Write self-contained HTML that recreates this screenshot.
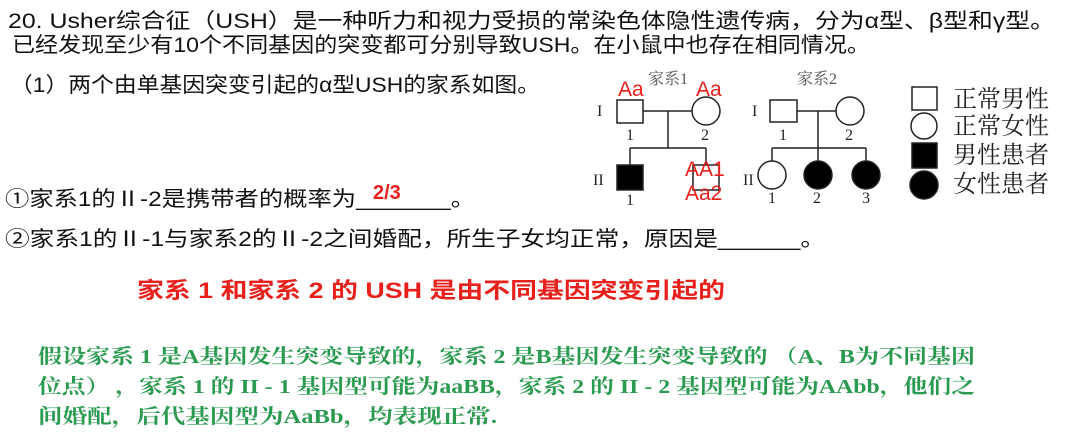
<!DOCTYPE html>
<html><head><meta charset="utf-8"><style>
html,body{margin:0;padding:0;background:#fff;width:1080px;height:438px;overflow:hidden}
svg{display:block}
.t{font-family:"Liberation Sans","Noto Sans CJK SC",sans-serif;font-size:21px;fill:#111}
.s{font-family:"Liberation Serif","Noto Serif CJK SC",serif;fill:#222}
.r{font-family:"Liberation Sans","Noto Sans CJK SC",sans-serif;fill:#e8201c}
.g{font-family:"Liberation Serif","Noto Serif CJK SC",serif;font-weight:bold;font-size:20px;fill:#2a9a50}
</style></head><body>
<svg width="1080" height="438" viewBox="0 0 1080 438">
<text class="t" x="8" y="28" textLength="1047" lengthAdjust="spacingAndGlyphs">20. Usher综合征（USH）是一种听力和视力受损的常染色体隐性遗传病，分为α型、β型和γ型。</text>
<text class="t" x="12" y="52" textLength="858" lengthAdjust="spacingAndGlyphs">已经发现至少有10个不同基因的突变都可分别导致USH。在小鼠中也存在相同情况。</text>
<text class="t" x="10" y="92" textLength="530" lengthAdjust="spacingAndGlyphs">（1）两个由单基因突变引起的α型USH的家系如图。</text>
<text class="t" x="5" y="206" textLength="470" lengthAdjust="spacingAndGlyphs">①家系1的Ⅱ-2是携带者的概率为_______。</text>
<text class="r" x="373" y="199" font-size="20" font-weight="bold">2/3</text>
<text class="t" x="5" y="246" textLength="820" lengthAdjust="spacingAndGlyphs">②家系1的Ⅱ-1与家系2的Ⅱ-2之间婚配，所生子女均正常，原因是______。</text>
<text class="r" x="137" y="298" font-size="22" font-weight="bold" textLength="588" lengthAdjust="spacingAndGlyphs">家系 1 和家系 2 的 USH 是由不同基因突变引起的</text>
<text class="g" x="38" y="363" textLength="937" lengthAdjust="spacingAndGlyphs">假设家系 1 是A基因发生突变导致的，家系 2 是B基因发生突变导致的 （A、B为不同基因</text>
<text class="g" x="38" y="393" textLength="937" lengthAdjust="spacingAndGlyphs">位点） ，家系 1 的 II - 1 基因型可能为aaBB，家系 2 的 II - 2 基因型可能为AAbb，他们之</text>
<text class="g" x="38" y="423" textLength="459" lengthAdjust="spacingAndGlyphs">间婚配，后代基因型为AaBb，均表现正常.</text>

<g stroke="#222" stroke-width="1.5" fill="#fff">
<line x1="643" y1="111" x2="692" y2="111"/>
<line x1="668" y1="111" x2="668" y2="148"/>
<line x1="630" y1="148" x2="706" y2="148"/>
<line x1="630" y1="148" x2="630" y2="165"/>
<line x1="706" y1="148" x2="706" y2="165"/>
<rect x="617" y="100" width="26" height="23"/>
<circle cx="706" cy="111" r="14"/>
<rect x="617" y="165" width="26" height="25" fill="#000"/>
<rect x="693" y="165" width="26" height="25"/>
<line x1="797" y1="111" x2="836" y2="111"/>
<line x1="818" y1="111" x2="818" y2="161"/>
<line x1="772" y1="148" x2="866" y2="148"/>
<line x1="772" y1="148" x2="772" y2="161"/>
<line x1="866" y1="148" x2="866" y2="161"/>
<rect x="770" y="100" width="27" height="22"/>
<circle cx="850" cy="111" r="14"/>
<circle cx="772" cy="175" r="14"/>
<circle cx="818" cy="175" r="14" fill="#000"/>
<circle cx="866" cy="175" r="14" fill="#000"/>
<rect x="912" y="87" width="25" height="23"/>
<circle cx="924" cy="126" r="13"/>
<rect x="912" y="143" width="25" height="25" fill="#000"/>
<circle cx="924" cy="185" r="14" fill="#000"/>
</g>
<g class="s" font-size="16">
<text x="648" y="84" fill="#555">家系1</text>
<text x="797" y="84" fill="#555">家系2</text>
<text x="597" y="116">I</text><text x="752" y="116">I</text>
<text x="593" y="185">II</text><text x="743" y="185">II</text>
<text x="626" y="140">1</text><text x="701" y="140">2</text>
<text x="779" y="140">1</text><text x="845" y="140">2</text>
<text x="626" y="205">1</text><text x="768" y="203">1</text><text x="813" y="203">2</text><text x="862" y="203">3</text>
</g>
<g class="s" font-size="24" fill="#111">
<text x="953" y="107">正常男性</text>
<text x="953" y="134">正常女性</text>
<text x="953" y="163">男性患者</text>
<text x="953" y="192">女性患者</text>
</g>
<g class="r" font-size="21">
<text x="618" y="96">Aa</text>
<text x="696" y="96">Aa</text>
<text x="685" y="176">AA1</text>
<text x="685" y="200">Aa2</text>
</g>
</svg>
</body></html>
